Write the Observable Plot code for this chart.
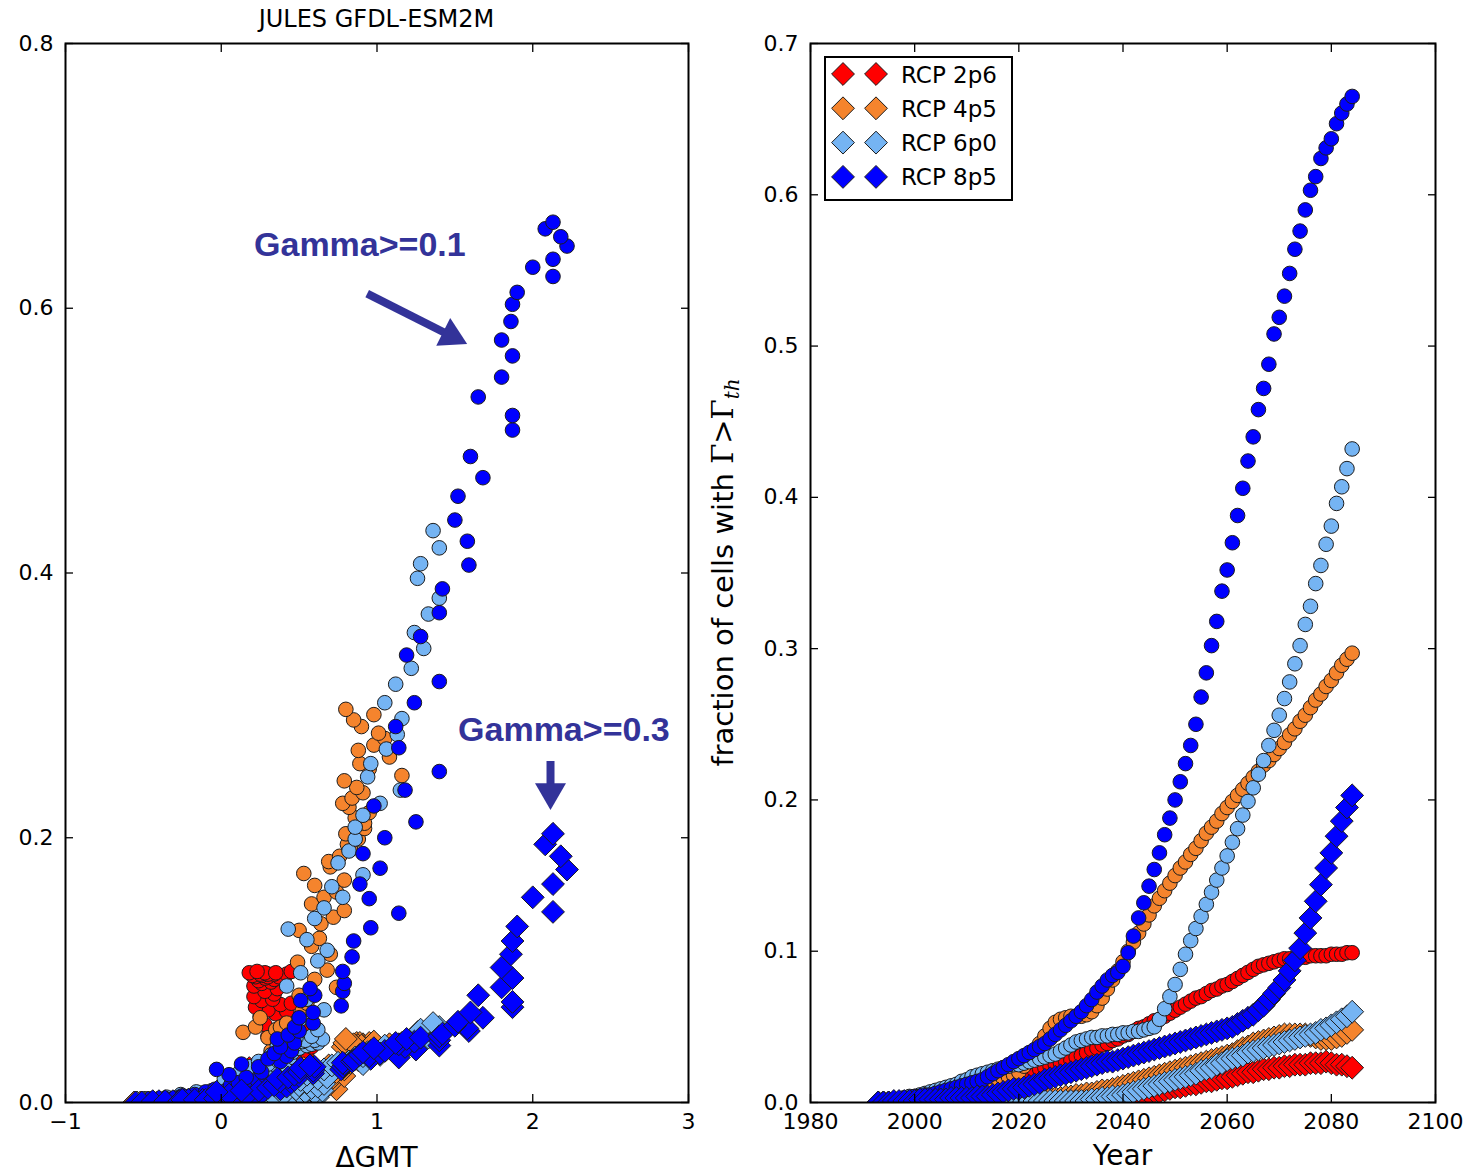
<!DOCTYPE html>
<html>
<head>
<meta charset="utf-8">
<script src="https://cdn.jsdelivr.net/npm/d3@7"></script>
<script src="https://cdn.jsdelivr.net/npm/@observablehq/plot@0.6"></script>
<style>
  body { margin: 0; background: #fff; }
  #fig { position: relative; width: 1482px; height: 1175px; background: #fff; }
  #fig svg { position: absolute; top: 0; }
</style>
</head>
<body>
<div id="fig"></div>
<script>
// ---------------------------------------------------------------
// Fraction of JULES grid cells above a Gamma threshold, GFDL-ESM2M
// forcing, four RCPs. Circles: Gamma >= 0.1, diamonds: Gamma >= 0.3.
// One value per year, 1993-2084.
// ---------------------------------------------------------------
const years = d3.range(1993, 2085);

const scenarios = ["RCP 2p6", "RCP 4p5", "RCP 6p0", "RCP 8p5"];
const colors = ["#ff0000", "#f5842d", "#75b4f3", "#0000ff"];

// Global mean temperature change per year (x of the left panel)
const gmt26 = [
  -0.55, -0.49, -0.51, -0.41, -0.44, -0.31, -0.35, -0.29, -0.21, -0.24,
  -0.13, -0.17, -0.06, -0.08, 0.00, -0.05, 0.06, 0.10, 0.03, 0.15,
  0.08, 0.20, 0.12, 0.25, 0.18, 0.30, 0.22, 0.33, 0.27, 0.36,
  0.30, 0.40, 0.28, 0.38, 0.45, 0.32, 0.42, 0.48, 0.35, 0.44,
  0.52, 0.38, 0.47, 0.55, 0.40, 0.50, 0.58, 0.42, 0.36, 0.50,
  0.44, 0.30, 0.46, 0.52, 0.38, 0.44, 0.28, 0.40, 0.48, 0.25,
  0.35, 0.42, 0.30, 0.22, 0.38, 0.45, 0.26, 0.33, 0.21, 0.34,
  0.28, 0.36, 0.21, 0.26, 0.32, 0.24, 0.34, 0.28, 0.22, 0.30,
  0.37, 0.26, 0.20, 0.34, 0.42, 0.25, 0.30, 0.18, 0.28, 0.35,
  0.45, 0.23
];
const gmt45 = [
  -0.56, -0.46, -0.52, -0.39, -0.45, -0.30, -0.37, -0.27, -0.22, -0.24,
  -0.11, -0.18, -0.04, -0.09, 0.04, -0.02, 0.09, 0.03, 0.16, 0.08,
  0.18, 0.12, 0.22, 0.15, 0.26, 0.20, 0.30, 0.24, 0.33, 0.28,
  0.36, 0.32, 0.40, 0.30, 0.14, 0.35, 0.40, 0.22, 0.45, 0.38,
  0.48, 0.42, 0.25, 0.52, 0.55, 0.50, 0.74, 0.60, 0.68, 0.49,
  0.70, 0.58, 0.63, 0.50, 0.64, 0.72, 0.79, 0.58, 0.66, 0.74,
  0.60, 0.79, 0.53, 0.70, 0.69, 0.76, 0.83, 0.81, 0.88, 0.80,
  0.92, 0.92, 0.86, 0.95, 0.82, 0.78, 0.84, 0.91, 0.87, 0.79,
  1.16, 0.95, 0.89, 1.08, 0.88, 0.98, 1.05, 1.01, 0.90, 0.85,
  0.98, 0.80
];
const gmt60 = [
  -0.54, -0.48, -0.50, -0.41, -0.43, -0.32, -0.35, -0.28, -0.20, -0.26,
  -0.13, -0.16, -0.06, -0.02, 0.05, 0.00, 0.12, 0.08, 0.15, 0.02,
  0.20, 0.10, 0.25, 0.18, 0.12, 0.28, 0.22, 0.33, 0.26, 0.18,
  0.35, 0.30, 0.40, 0.24, 0.36, 0.44, 0.32, 0.46, 0.38, 0.50,
  0.42, 0.55, 0.36, 0.48, 0.58, 0.45, 0.62, 0.52, 0.40, 0.60,
  0.54, 0.65, 0.48, 0.58, 0.62, 0.50, 0.66, 0.55, 0.42, 0.51,
  0.62, 0.68, 0.55, 0.43, 0.60, 0.66, 0.78, 0.71, 0.91, 0.75,
  0.82, 0.86, 0.86, 0.91, 1.02, 1.15, 0.94, 0.96, 1.06, 1.13,
  1.16, 1.05, 1.12, 1.22, 1.30, 1.24, 1.33, 1.40, 1.26, 1.28,
  1.40, 1.36
];
const gmt85 = [
  -0.55, -0.47, -0.51, -0.40, -0.44, -0.31, -0.36, -0.27, -0.21, -0.25,
  -0.12, -0.17, -0.05, -0.10, 0.03, -0.04, 0.10, 0.14, 0.06, 0.19,
  0.11, 0.23, 0.16, 0.05, 0.26, -0.03, 0.24, 0.13, 0.38, 0.30,
  0.42, 0.34, 0.45, 0.38, 0.47, 0.36, 0.43, 0.50, 0.47, 0.59,
  0.50, 0.59, 0.77, 0.51, 0.60, 0.78, 0.57, 0.79, 0.78, 0.84,
  0.85, 0.96, 1.14, 0.95, 0.89, 1.02, 0.91, 1.05, 1.25, 0.98,
  1.18, 1.40, 1.14, 1.12, 1.24, 1.40, 1.19, 1.28, 1.40, 1.42,
  1.59, 1.58, 1.50, 1.52, 1.68, 1.60, 1.87, 1.87, 1.65, 1.80,
  1.87, 1.80, 1.86, 1.87, 1.90, 2.13, 2.00, 2.13, 2.22, 2.18,
  2.08, 2.13
];

// Fraction of cells with Gamma >= 0.1
const frac01_26 = [
  0.000, 0.000, 0.000, 0.001, 0.001, 0.001, 0.001, 0.002, 0.002, 0.002,
  0.003, 0.003, 0.004, 0.004, 0.005, 0.005, 0.006, 0.007, 0.008, 0.009,
  0.010, 0.011, 0.012, 0.013, 0.014, 0.015, 0.016, 0.018, 0.019, 0.020,
  0.021, 0.022, 0.023, 0.024, 0.025, 0.026, 0.027, 0.028, 0.030, 0.031,
  0.033, 0.035, 0.036, 0.038, 0.039, 0.041, 0.042, 0.044, 0.045, 0.047,
  0.049, 0.050, 0.052, 0.054, 0.055, 0.057, 0.059, 0.061, 0.063, 0.065,
  0.067, 0.069, 0.070, 0.072, 0.074, 0.075, 0.077, 0.078, 0.080, 0.082,
  0.084, 0.086, 0.088, 0.090, 0.091, 0.092, 0.093, 0.094, 0.095, 0.095,
  0.095, 0.096, 0.096, 0.097, 0.097, 0.097, 0.097, 0.098, 0.098, 0.098,
  0.099, 0.099
];
const frac01_45 = [
  0.000, 0.000, 0.001, 0.001, 0.001, 0.002, 0.002, 0.002, 0.003, 0.003,
  0.004, 0.004, 0.005, 0.005, 0.006, 0.007, 0.008, 0.009, 0.010, 0.011,
  0.012, 0.013, 0.014, 0.015, 0.016, 0.017, 0.018, 0.020, 0.024, 0.029,
  0.034, 0.039, 0.044, 0.049, 0.053, 0.055, 0.056, 0.057, 0.057, 0.057,
  0.058, 0.060, 0.064, 0.069, 0.075, 0.081, 0.087, 0.093, 0.100, 0.106,
  0.112, 0.118, 0.124, 0.130, 0.135, 0.140, 0.145, 0.150, 0.155, 0.159,
  0.164, 0.168, 0.173, 0.178, 0.182, 0.186, 0.191, 0.195, 0.199, 0.203,
  0.207, 0.211, 0.215, 0.219, 0.223, 0.226, 0.230, 0.234, 0.238, 0.243,
  0.247, 0.252, 0.256, 0.261, 0.266, 0.270, 0.275, 0.279, 0.284, 0.289,
  0.293, 0.297
];
const frac01_60 = [
  0.000, 0.001, 0.001, 0.002, 0.002, 0.003, 0.004, 0.004, 0.005, 0.006,
  0.007, 0.008, 0.009, 0.010, 0.011, 0.012, 0.014, 0.015, 0.017, 0.018,
  0.019, 0.020, 0.021, 0.022, 0.023, 0.024, 0.025, 0.025, 0.026, 0.027,
  0.028, 0.029, 0.030, 0.031, 0.032, 0.034, 0.036, 0.038, 0.040, 0.041,
  0.042, 0.043, 0.043, 0.044, 0.044, 0.045, 0.045, 0.046, 0.046, 0.047,
  0.047, 0.048, 0.049, 0.050, 0.055, 0.062, 0.070, 0.078, 0.088, 0.098,
  0.107, 0.115, 0.123, 0.131, 0.139, 0.147, 0.155, 0.163, 0.172, 0.181,
  0.190, 0.199, 0.208, 0.217, 0.226, 0.236, 0.246, 0.256, 0.267, 0.278,
  0.290, 0.302, 0.316, 0.328, 0.343, 0.355, 0.369, 0.381, 0.396, 0.407,
  0.419, 0.432
];
const frac01_85 = [
  0.000, 0.001, 0.001, 0.002, 0.002, 0.003, 0.003, 0.004, 0.004, 0.005,
  0.005, 0.006, 0.007, 0.008, 0.009, 0.010, 0.011, 0.012, 0.013, 0.014,
  0.015, 0.017, 0.019, 0.021, 0.023, 0.025, 0.027, 0.029, 0.031, 0.033,
  0.035, 0.037, 0.039, 0.042, 0.045, 0.048, 0.051, 0.054, 0.057, 0.060,
  0.064, 0.068, 0.073, 0.077, 0.081, 0.084, 0.086, 0.090, 0.099, 0.110,
  0.122, 0.132, 0.143, 0.154, 0.165, 0.177, 0.188, 0.200, 0.212, 0.224,
  0.236, 0.250, 0.268, 0.284, 0.302, 0.318, 0.338, 0.352, 0.370, 0.388,
  0.406, 0.424, 0.440, 0.458, 0.472, 0.488, 0.508, 0.519, 0.533, 0.548,
  0.564, 0.576, 0.590, 0.603, 0.612, 0.624, 0.631, 0.637, 0.647, 0.654,
  0.660, 0.665
];

// Fraction of cells with Gamma >= 0.3
const frac03_26 = [
  0.000, 0.000, 0.000, 0.000, 0.000, 0.000, 0.000, 0.000, 0.000, 0.000,
  0.000, 0.000, 0.000, 0.000, 0.000, 0.000, 0.000, 0.000, 0.000, 0.000,
  0.000, 0.000, 0.000, 0.000, 0.000, 0.000, 0.000, 0.000, 0.000, 0.000,
  0.000, 0.000, 0.000, 0.000, 0.001, 0.001, 0.001, 0.001, 0.001, 0.001,
  0.001, 0.001, 0.001, 0.002, 0.002, 0.002, 0.003, 0.003, 0.004, 0.004,
  0.005, 0.005, 0.006, 0.007, 0.007, 0.008, 0.009, 0.010, 0.010, 0.011,
  0.012, 0.012, 0.013, 0.014, 0.014, 0.015, 0.016, 0.016, 0.017, 0.018,
  0.019, 0.020, 0.020, 0.021, 0.022, 0.022, 0.023, 0.023, 0.024, 0.024,
  0.025, 0.025, 0.025, 0.026, 0.026, 0.026, 0.027, 0.026, 0.025, 0.025,
  0.024, 0.023
];
const frac03_45 = [
  0.000, 0.000, 0.000, 0.000, 0.000, 0.000, 0.000, 0.000, 0.000, 0.000,
  0.000, 0.000, 0.000, 0.000, 0.000, 0.001, 0.001, 0.001, 0.001, 0.001,
  0.001, 0.001, 0.001, 0.001, 0.001, 0.001, 0.001, 0.001, 0.002, 0.002,
  0.002, 0.002, 0.002, 0.003, 0.003, 0.003, 0.004, 0.004, 0.005, 0.005,
  0.006, 0.006, 0.007, 0.008, 0.008, 0.009, 0.010, 0.011, 0.012, 0.013,
  0.014, 0.015, 0.016, 0.017, 0.018, 0.019, 0.020, 0.021, 0.022, 0.023,
  0.024, 0.025, 0.026, 0.027, 0.028, 0.029, 0.030, 0.031, 0.032, 0.034,
  0.036, 0.037, 0.039, 0.040, 0.041, 0.042, 0.043, 0.044, 0.045, 0.045,
  0.045, 0.045, 0.045, 0.044, 0.043, 0.042, 0.042, 0.042, 0.043, 0.044,
  0.046, 0.048
];
const frac03_60 = [
  0.000, 0.000, 0.000, 0.000, 0.000, 0.000, 0.000, 0.000, 0.000, 0.000,
  0.000, 0.000, 0.000, 0.000, 0.000, 0.001, 0.001, 0.001, 0.001, 0.001,
  0.001, 0.001, 0.001, 0.001, 0.001, 0.001, 0.001, 0.001, 0.001, 0.001,
  0.001, 0.001, 0.001, 0.001, 0.001, 0.001, 0.001, 0.001, 0.001, 0.001,
  0.001, 0.002, 0.002, 0.003, 0.003, 0.004, 0.004, 0.005, 0.006, 0.007,
  0.008, 0.009, 0.010, 0.011, 0.012, 0.013, 0.014, 0.015, 0.016, 0.017,
  0.018, 0.019, 0.021, 0.022, 0.023, 0.025, 0.026, 0.028, 0.029, 0.030,
  0.031, 0.033, 0.034, 0.035, 0.036, 0.037, 0.038, 0.039, 0.040, 0.041,
  0.042, 0.043, 0.044, 0.045, 0.046, 0.048, 0.049, 0.051, 0.053, 0.055,
  0.057, 0.060
];
const frac03_85 = [
  0.000, 0.000, 0.000, 0.001, 0.001, 0.001, 0.001, 0.001, 0.002, 0.002,
  0.002, 0.002, 0.002, 0.002, 0.003, 0.003, 0.003, 0.003, 0.003, 0.004,
  0.004, 0.004, 0.005, 0.006, 0.007, 0.008, 0.009, 0.009, 0.010, 0.011,
  0.012, 0.013, 0.015, 0.016, 0.017, 0.018, 0.019, 0.020, 0.021, 0.022,
  0.023, 0.024, 0.025, 0.026, 0.027, 0.027, 0.028, 0.029, 0.030, 0.031,
  0.032, 0.033, 0.034, 0.035, 0.036, 0.037, 0.038, 0.039, 0.040, 0.041,
  0.042, 0.043, 0.044, 0.045, 0.046, 0.047, 0.048, 0.049, 0.050, 0.052,
  0.054, 0.056, 0.058, 0.061, 0.064, 0.068, 0.072, 0.076, 0.081, 0.087,
  0.094, 0.102, 0.112, 0.122, 0.133, 0.144, 0.155, 0.165, 0.176, 0.186,
  0.195, 0.203
];

// Axis ticks
const gmtTicks = [-1, 0, 1, 2, 3];
const fracTicksLeft = [0, 0.2, 0.4, 0.6, 0.8];
const yearTicks = [1980, 2000, 2020, 2040, 2060, 2080, 2100];
const fracTicksRight = [0, 0.1, 0.2, 0.3, 0.4, 0.5, 0.6, 0.7];

// Annotations of the left panel (data coordinates)
const annotations = [
  {label: "Gamma>=0.1", gmt: 0.89, frac: 0.648},
  {label: "Gamma>=0.3", gmt: 2.20, frac: 0.281}
];
const arrows = [
  {gmt1: 0.937, frac1: 0.611, gmt2: 1.579, frac2: 0.573},
  {gmt1: 2.114, frac1: 0.258, gmt2: 2.114, frac2: 0.221}
];

// ---------------------------------------------------------------
const series = [
  {name: scenarios[0], color: colors[0], gmt: gmt26, f01: frac01_26, f03: frac03_26},
  {name: scenarios[1], color: colors[1], gmt: gmt45, f01: frac01_45, f03: frac03_45},
  {name: scenarios[2], color: colors[2], gmt: gmt60, f01: frac01_60, f03: frac03_60},
  {name: scenarios[3], color: colors[3], gmt: gmt85, f01: frac01_85, f03: frac03_85}
];

const rows = [];
series.forEach(s => years.forEach((yr, i) => {
  rows.push({scenario: s.name, year: yr, gmt: s.gmt[i], frac: s.f01[i], gamma: 0.1});
  rows.push({scenario: s.name, year: yr, gmt: s.gmt[i], frac: s.f03[i], gamma: 0.3});
}));

const edge = "#1c1c1c";
const circleR = 7.3;
const diamondR = 10.3;
const annColor = "#333399";
const fontFamily = "DejaVu Sans";

function scatter(xField) {
  return series.flatMap(s => [
    Plot.dot(rows.filter(d => d.scenario === s.name && d.gamma === 0.1), {
      x: xField, y: "frac", r: circleR, fill: s.color, stroke: edge, strokeWidth: 1, clip: true
    }),
    Plot.dot(rows.filter(d => d.scenario === s.name && d.gamma === 0.3), {
      x: xField, y: "frac", r: diamondR, symbol: "diamond2", fill: s.color, stroke: edge, strokeWidth: 1, clip: true
    })
  ]);
}

function axes(xTicks, yTicks, xFmt, yFmt) {
  const tick = {tickSize: -8, fill: "none", label: null, stroke: "black", strokeWidth: 1.3};
  return [
    Plot.axisX(xTicks, {anchor: "bottom", ...tick}),
    Plot.axisX(xTicks, {anchor: "top", ...tick}),
    Plot.axisY(yTicks, {anchor: "left", ...tick}),
    Plot.axisY(yTicks, {anchor: "right", ...tick}),
    Plot.axisX(xTicks, {anchor: "bottom", tickSize: 0, tickPadding: 11, tickFormat: xFmt, label: null, fill: "black"}),
    Plot.axisY(yTicks, {anchor: "left", tickSize: 0, tickPadding: 12, tickFormat: yFmt, label: null, fill: "black"}),
    Plot.frame({stroke: "black", strokeWidth: 2})
  ];
}

const H = 1175, marginTop = 43, marginBottom = 73;
const left = {x0: 0, width: 700, marginLeft: 65, marginRight: 12, xDomain: [-1, 3], yDomain: [0, 0.8]};
const right = {x0: 700, width: 782, marginLeft: 110, marginRight: 47, xDomain: [1980, 2100], yDomain: [0, 0.7]};

// Arrow heads: a filled triangle whose tip sits on the arrow end
const lx = d3.scaleLinear(left.xDomain, [left.marginLeft, left.width - left.marginRight]);
const ly = d3.scaleLinear(left.yDomain, [H - marginBottom, marginTop]);
const headR = 11.5;
const tipDist = 2 * headR * Math.sqrt(Math.PI / (3 * Math.sqrt(3)));
const arrowRows = arrows.map(a => {
  const x1 = lx(a.gmt1), y1 = ly(a.frac1), x2 = lx(a.gmt2), y2 = ly(a.frac2);
  const ang = Math.atan2(y2 - y1, x2 - x1);
  const cx = x2 - tipDist * Math.cos(ang), cy = y2 - tipDist * Math.sin(ang);
  return {...a, hx: lx.invert(cx), hy: ly.invert(cy), rot: ang * 180 / Math.PI + 90};
});

const style = {fontFamily, fontSize: "22px", background: "transparent", overflow: "visible", color: "black"};

const leftPlot = Plot.plot({
  width: left.width, height: H,
  marginLeft: left.marginLeft, marginRight: left.marginRight, marginTop, marginBottom,
  x: {domain: left.xDomain},
  y: {domain: left.yDomain},
  style,
  marks: [
    ...scatter("gmt"),
    Plot.link(arrowRows, {x1: "gmt1", y1: "frac1", x2: "hx", y2: "hy", stroke: annColor, strokeWidth: 8}),
    Plot.dot(arrowRows, {x: "hx", y: "hy", symbol: "triangle", r: headR, fill: annColor, rotate: "rot"}),
    Plot.text(annotations, {x: "gmt", y: "frac", text: "label", fontSize: 34, fontWeight: "bold",
      fontFamily: "Liberation Sans", fill: annColor, textAnchor: "middle", lineAnchor: "middle"}),
    ...axes(gmtTicks, fracTicksLeft, d3.format("d"), d3.format(".1f"))
  ]
});

const rightPlot = Plot.plot({
  width: right.width, height: H,
  marginLeft: right.marginLeft, marginRight: right.marginRight, marginTop, marginBottom,
  x: {domain: right.xDomain},
  y: {domain: right.yDomain},
  style,
  marks: [
    ...scatter("year"),
    ...axes(yearTicks, fracTicksRight, d => String(d), d3.format(".1f"))
  ]
});

const fig = document.getElementById("fig");
leftPlot.style.left = left.x0 + "px";
rightPlot.style.left = right.x0 + "px";
fig.appendChild(leftPlot);
fig.appendChild(rightPlot);

// Titles, axis labels and legend
const over = d3.select(fig).append("svg")
  .attr("width", 1482).attr("height", H)
  .style("left", "0px").style("pointer-events", "none")
  .attr("font-family", fontFamily).attr("fill", "black");

const leftMid = left.marginLeft + (left.width - left.marginLeft - left.marginRight) / 2;
const rightMid = right.x0 + right.marginLeft + (right.width - right.marginLeft - right.marginRight) / 2;
const frameMidY = marginTop + (H - marginTop - marginBottom) / 2;

over.append("text").attr("x", leftMid).attr("y", 27).attr("text-anchor", "middle")
  .attr("font-size", 24).text("JULES GFDL-ESM2M");
over.append("text").attr("x", leftMid).attr("y", 1167).attr("text-anchor", "middle")
  .attr("font-size", 28).text("ΔGMT");
over.append("text").attr("x", rightMid).attr("y", 1165).attr("text-anchor", "middle")
  .attr("font-size", 28).text("Year");

const yl = over.append("text")
  .attr("transform", `translate(733,${frameMidY}) rotate(-90)`)
  .attr("text-anchor", "middle").attr("font-size", 29);
yl.append("tspan").text("fraction of cells with ");
yl.append("tspan").attr("font-family", "DejaVu Serif").text("Γ>Γ");
yl.append("tspan").attr("font-family", "DejaVu Serif").attr("font-style", "italic")
  .attr("font-size", 20).attr("dy", 6).text("th");

const lg = over.append("g");
lg.append("rect").attr("x", 825).attr("y", 57).attr("width", 187).attr("height", 143)
  .attr("fill", "white").attr("stroke", "black").attr("stroke-width", 2);
const legendDiamond = d3.symbol(d3.symbolDiamond2, Math.PI * diamondR * diamondR)();
scenarios.forEach((name, i) => {
  const cy = 74 + i * 34.3;
  [843, 876].forEach(cx => lg.append("path").attr("d", legendDiamond)
    .attr("transform", `translate(${cx},${cy})`)
    .attr("fill", colors[i]).attr("stroke", edge).attr("stroke-width", 1));
  lg.append("text").attr("x", 901).attr("y", cy + 8.5).attr("font-size", 23).text(name);
});
</script>
</body>
</html>
